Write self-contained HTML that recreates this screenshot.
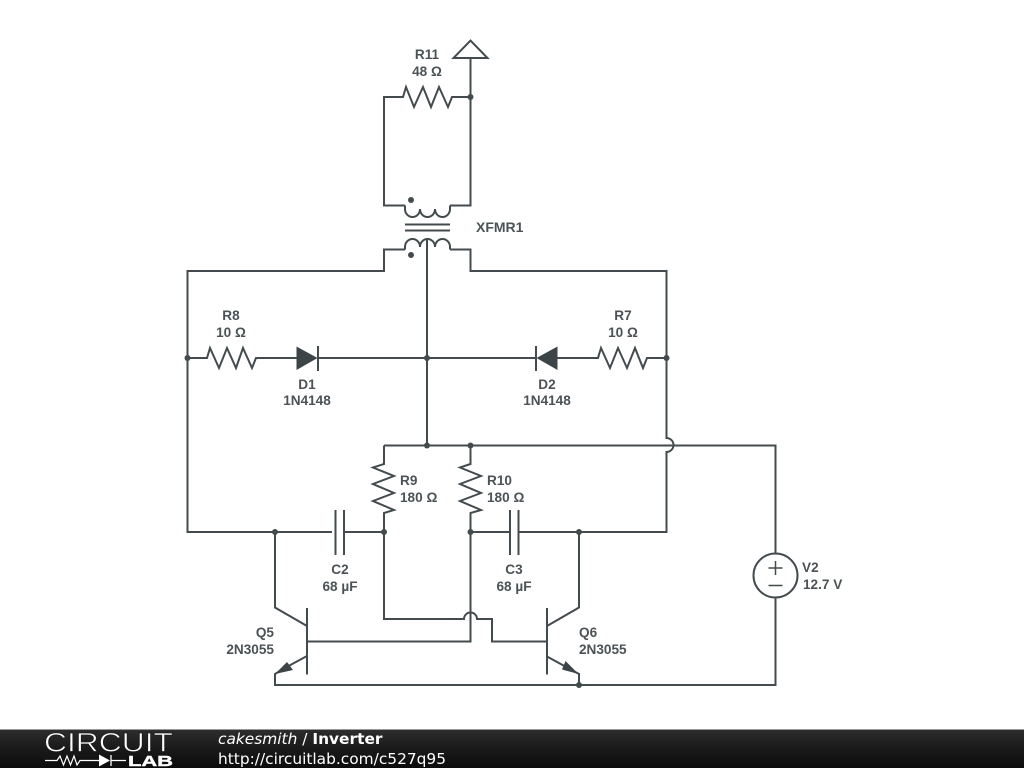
<!DOCTYPE html>
<html>
<head>
<meta charset="utf-8">
<style>
html,body{margin:0;padding:0;background:#fff;width:1024px;height:768px;overflow:hidden}
svg{display:block}
.w{fill:none;stroke:#434b4e;stroke-width:2;stroke-linejoin:miter}
.l{font-family:"Liberation Sans",sans-serif;font-weight:bold;font-size:13.6px;fill:#4c5356}
.f{font-family:"DejaVu Sans",sans-serif;font-size:15.4px;fill:#fff}
</style>
</head>
<body>
<svg width="1024" height="768" viewBox="0 0 1024 768" xmlns="http://www.w3.org/2000/svg">
<defs>
<linearGradient id="g" x1="0" y1="0" x2="0" y2="1">
<stop offset="0" stop-color="#2e2e2e"/>
<stop offset="0.5" stop-color="#1a1a1a"/>
<stop offset="1" stop-color="#0c0c0c"/>
</linearGradient>
</defs>
<rect width="1024" height="768" fill="#fff"/>

<!-- ground + R11 loop -->
<path class="w" d="M470.5 58H453.500L470.500 40.500L487.500 58H470.500V205.500H450"/>
<path class="w" d="M470.500 97H452L448 107L439 87L431 107L423 87L414 107L406 87L403 97H384V205.500H405"/>

<!-- transformer -->
<path class="w" d="M405 205.500V209A7.500 8 0 0 0 420 209A7.500 8 0 0 0 435 209A7.500 8 0 0 0 450 209V205.500"/>
<path class="w" d="M405 224.500H450M405 230.500H450"/>
<path class="w" d="M405 249.500V247A7.500 8 0 0 1 420 247A7.500 8 0 0 1 435 247A7.500 8 0 0 1 450 247V249.500"/>
<circle cx="411" cy="200" r="3" fill="#434b4e"/>
<circle cx="411" cy="255" r="3" fill="#434b4e"/>

<!-- primary wires -->
<path class="w" d="M405 249.500H384V271H187.500V532H332"/>
<path class="w" d="M450 249.500H470.500V271H666.500V438A7 7 0 0 1 666.500 452V532H518"/>
<path class="w" d="M427 239V445.500"/>

<!-- R8 D1 -->
<path class="w" d="M187.500 358H207L210 348L219 368L227 348L236 368L243 348L252 368L256 358H297"/>
<path d="M296.500 346.500L317.500 358L296.500 370Z" fill="#3c4447"/>
<path class="w" d="M318 346V371M318 358H535"/>

<!-- D2 R7 -->
<path d="M557.500 346.500L536.500 358L557.500 370Z" fill="#3c4447"/>
<path class="w" d="M536 346V371M557 358H598L601 348L610 368L618 348L627 368L635 348L643 368L647 358H666.500"/>

<!-- top rail -->
<path class="w" d="M384 445.500H775.500V553"/>
<path class="w" d="M384 445.500V464L373 467.500L394 476L373 484L394 493L373 501L394 510L384 513V619H464A6.500 6.500 0 0 1 477 619H492V641.500H547"/>
<path class="w" d="M470.500 445.500V464L460 467.500L481 476L460 484L481 493L460 501L481 510L470.500 513V641.500H307"/>

<!-- caps -->
<path class="w" d="M335.500 510V555M344 510V555M344 532H384"/>
<path class="w" d="M510 510V555M518.500 510V555M470.500 532H510"/>

<!-- V2 -->
<circle class="w" cx="775.500" cy="575.500" r="22"/>
<path class="w" d="M775.500 597.500V685H275V674L283 669"/>
<path d="M768.500 568H782.500M775.500 561V575M768.500 585.500H782.500" fill="none" stroke="#434b4e" stroke-width="1.500"/>

<!-- Q5 -->
<path class="w" d="M307 608V674.500"/>
<path class="w" d="M275 532V607.500L307 626"/>
<path class="w" d="M307 656L283 669"/>
<path d="M275 674L287 662L293 670Z" fill="#3c4447"/>

<!-- Q6 -->
<path class="w" d="M547 608V674.500"/>
<path class="w" d="M579 532V607.500L547 626"/>
<path class="w" d="M547 656.500L579 674V685"/>
<path d="M578.500 674L562 669.500L565.500 661Z" fill="#3c4447"/>

<!-- junctions -->
<g fill="#434b4e">
<circle cx="470.500" cy="97" r="3"/>
<circle cx="187.500" cy="358" r="3"/>
<circle cx="427" cy="358" r="3"/>
<circle cx="666.500" cy="358" r="3"/>
<circle cx="427" cy="445.500" r="3"/>
<circle cx="470.500" cy="445.500" r="3"/>
<circle cx="275" cy="532" r="3"/>
<circle cx="384" cy="532" r="3"/>
<circle cx="470.500" cy="532" r="3"/>
<circle cx="579" cy="532" r="3"/>
<circle cx="579" cy="685" r="3"/>
</g>

<!-- labels -->
<g class="l">
<text x="427" y="59" text-anchor="middle">R11</text>
<text x="427" y="76" text-anchor="middle">48 Ω</text>
<text x="476" y="232" font-size="14" style="font-size:14px">XFMR1</text>
<text x="231" y="320" text-anchor="middle">R8</text>
<text x="231" y="337" text-anchor="middle">10 Ω</text>
<text x="307" y="389" text-anchor="middle">D1</text>
<text x="307" y="405" text-anchor="middle">1N4148</text>
<text x="623" y="320" text-anchor="middle">R7</text>
<text x="623" y="337" text-anchor="middle">10 Ω</text>
<text x="547" y="389" text-anchor="middle">D2</text>
<text x="547" y="405" text-anchor="middle">1N4148</text>
<text x="400" y="485">R9</text>
<text x="400" y="502">180 Ω</text>
<text x="487" y="485">R10</text>
<text x="487" y="502">180 Ω</text>
<text x="340" y="574" text-anchor="middle">C2</text>
<text x="340" y="591" text-anchor="middle">68 µF</text>
<text x="514" y="574" text-anchor="middle">C3</text>
<text x="514" y="591" text-anchor="middle">68 µF</text>
<text x="802" y="572">V2</text>
<text x="803" y="589">12.7 V</text>
<text x="274" y="637" text-anchor="end">Q5</text>
<text x="274" y="654" text-anchor="end">2N3055</text>
<text x="579" y="637">Q6</text>
<text x="579" y="654">2N3055</text>
</g>

<!-- footer -->
<rect x="0" y="729" width="1024" height="39" fill="url(#g)"/>
<rect x="0" y="729" width="1024" height="1" fill="#9a9a9a"/>
<text x="44" y="751.500" font-family="'Liberation Sans',sans-serif" font-size="26.500" fill="#fff" stroke="#1c1c1c" stroke-width="0.700" textLength="129" lengthAdjust="spacingAndGlyphs">CIRCUIT</text>
<path d="M45 760.500H57L60 756L63.500 765L67 756L70.500 765L74 756L77 765L80 760.500H99" fill="none" stroke="#fff" stroke-width="1.200"/>
<path d="M99 754.500L110 760.500L99 766.500Z" fill="#fff"/>
<path d="M111 755V766M111 760.500H126" fill="none" stroke="#fff" stroke-width="1.300"/>
<text x="128" y="766" font-family="'Liberation Sans',sans-serif" font-weight="bold" font-size="15" fill="#fff" stroke="#fff" stroke-width="0.400" textLength="45" lengthAdjust="spacingAndGlyphs">LAB</text>
<text class="f" x="218" y="744"><tspan font-style="italic">cakesmith</tspan> / <tspan font-weight="bold">Inverter</tspan></text>
<text class="f" x="218" y="764">http://circuitlab.com/c527q95</text>
</svg>
</body>
</html>
